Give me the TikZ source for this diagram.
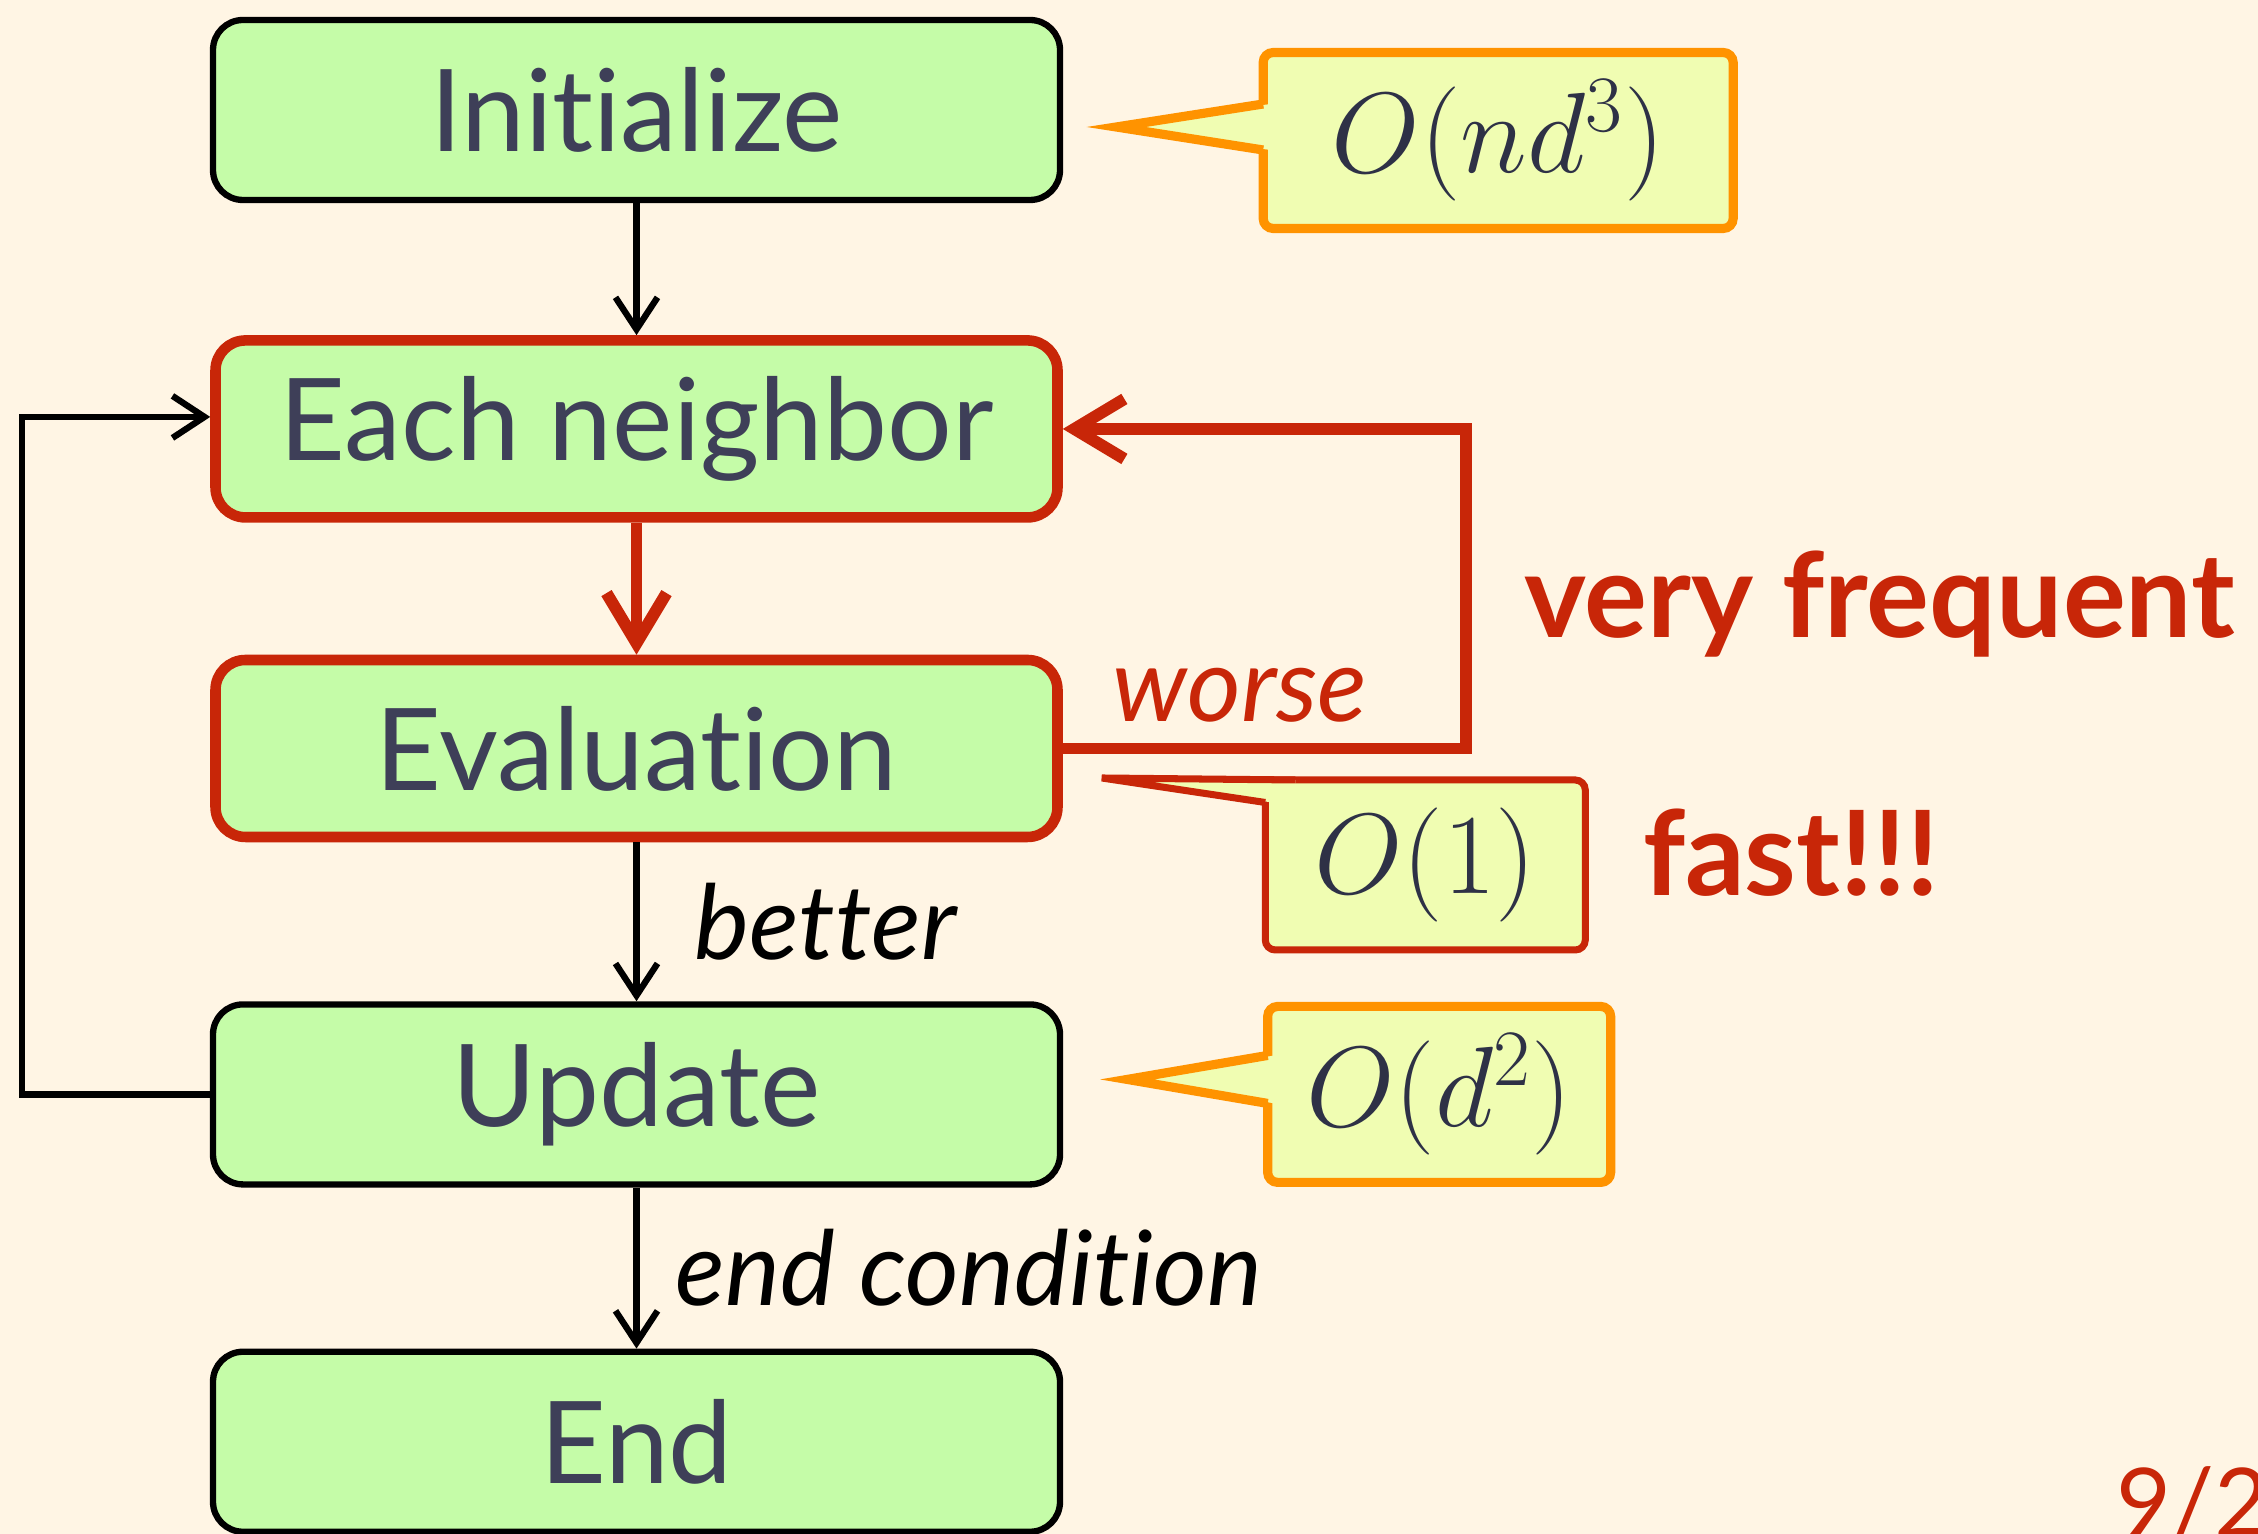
\RequirePackage{fix-cm}
\documentclass[tikz,border=0pt]{standalone}
\usepackage[no-math]{fontspec}
\setmainfont{Lato}[Ligatures=NoCommon]
\usepackage{xcolor}
\usepackage{tikz}
\usetikzlibrary{arrows.meta, positioning, calc}

\definecolor{bgcream}{RGB}{255,245,228}
\definecolor{boxgreen}{RGB}{197,252,168}
\definecolor{costyellow}{RGB}{240,253,178}
\definecolor{costorange}{RGB}{255,147,0}
\definecolor{hotred}{RGB}{200,38,8}
\definecolor{textdark}{RGB}{62,63,88}
\definecolor{mathdark}{RGB}{46,49,70}

\tikzset{
  stepbox/.style={rectangle, rounded corners=0.3cm, draw=black, line width=1.8pt,
                  fill=boxgreen, text=textdark, minimum width=8.47cm,
                  minimum height=1.80cm, font=\fontsize{32.5}{38}\selectfont},
  stepboxred/.style={stepbox, draw=hotred, line width=3pt,
                     minimum width=8.42cm, minimum height=1.77cm},
  costbox/.style={rectangle, rounded corners=0.1cm, draw=costorange,
                  line width=2.6pt, fill=costyellow, text=mathdark,
                  outer sep=0pt, font=\fontsize{32.5}{38}\selectfont},
  costboxred/.style={costbox, draw=hotred, line width=2pt},
  arrow/.style={-{Straight Barb[length=0.32cm, width=0.42cm]}, line width=1.8pt, draw=black},
  arrowred/.style={-{Straight Barb[length=0.5cm, width=0.6cm]}, line width=3.4pt, draw=hotred},
  lbl/.style={inner sep=0pt, font=\fontsize{29.5}{34}\selectfont\itshape},
  shout/.style={inner sep=0pt, text=hotred, font=\fontsize{33.5}{40}\selectfont\bfseries},
}

\begin{document}
\begin{tikzpicture}
  \useasboundingbox (0,0) rectangle (22.58,-15.34);
  \fill[bgcream] (0,0) rectangle (22.58,-15.34);

  % main column
  \node[stepbox] (init) at (6.365,-1.10) {Initialize};
  \node[stepboxred, below=1.32cm of init] (nbr) {Each neighbor};
  \node[stepboxred, below=1.32cm of nbr] (eval) {Evaluation};
  \node[stepbox, below=1.59cm of eval] (upd) {Update};
  \node[stepbox, below=1.61cm of upd] (fin) {End};

  \draw[arrow] (init) -- (nbr);
  \draw[arrowred] (nbr) -- (eval);
  \draw[arrow] (eval) -- node[lbl, right=0.55cm] (lbetter) {better} (upd);
  \draw[arrow] (upd) -- node[lbl, right=0.36cm] (lend) {end condition} (fin);

  % loop back from Update
  \coordinate (nbrin) at ($(nbr.west)+(0,0.12)$);
  \draw[arrow] (upd.west) -- ++(-1.88,0) |- (nbrin);

  % worse: back to Each neighbor
  \coordinate (fb) at ($(eval.east)+(4.03,0)$);
  \draw[arrowred, line join=miter] (eval.east)
    -- node[lbl, text=hotred, pos=0.44, above=0.2cm] (lworse) {worse} (fb)
    |- (nbr.east);
  \node[shout, anchor=base west] (vfreq) at ($(fb)+(0.58,1.11)$) {very frequent};

  % cost callouts
  \node[costbox, minimum width=4.70cm, minimum height=1.76cm,
        right=2.0cm of init, yshift=-0.305cm] (cx1) {$O(nd^3)$};
  \node[costboxred, minimum width=3.20cm, minimum height=1.70cm,
        right=2.025cm of eval, yshift=-1.165cm] (cx2) {$O(1)$};
  \node[costbox, minimum width=3.43cm, minimum height=1.76cm,
        right=2.045cm of upd] (cx3) {$O(d^2)$};
  \node[shout, anchor=base west] (fast) at ($(cx2.east)+(0.57,-0.305)$) {fast!!!};

  % pointers of the callouts
  \coordinate (p1) at ($(init.east)+(0.53,-0.17)$);
  \fill[costyellow] ($(cx1.west |- p1)+(0.07,0.23)$) -- (p1)
    -- ($(cx1.west |- p1)+(0.07,-0.23)$) -- cycle;
  \draw[costorange, line width=2.6pt, line join=miter]
    ($(cx1.west |- p1)+(0,0.23)$) -- (p1) -- ($(cx1.west |- p1)+(0,-0.23)$);

  \coordinate (p2) at ($(eval.east |- cx2.north)+(0.39,0.02)$);
  \coordinate (q2) at ($(cx2.north west)+(0,-0.225)$);
  \fill[costyellow] (p2) -- ($(cx2.north west)+(0.3,0)$)
    -- ($(cx2.north west)+(0.3,-0.25)$) -- ($(q2)+(0.07,0)$) -- cycle;
  \draw[hotred, line width=2pt, line join=miter]
    (q2) -- (p2) -- ($(cx2.north west)+(0.3,0)$);

  \coordinate (p3) at ($(upd.east)+(0.64,0.15)$);
  \fill[costyellow] ($(cx3.west |- p3)+(0.07,0.24)$) -- (p3)
    -- ($(cx3.west |- p3)+(0.07,-0.24)$) -- cycle;
  \draw[costorange, line width=2.6pt, line join=miter]
    ($(cx3.west |- p3)+(0,0.24)$) -- (p3) -- ($(cx3.west |- p3)+(0,-0.24)$);

  % page number
  \node[inner sep=0pt, anchor=base west, text=hotred,
        font=\fontsize{27}{32}\selectfont] (pgnum) at (21.16,-15.36) {9/2};
\end{tikzpicture}
\end{document}
